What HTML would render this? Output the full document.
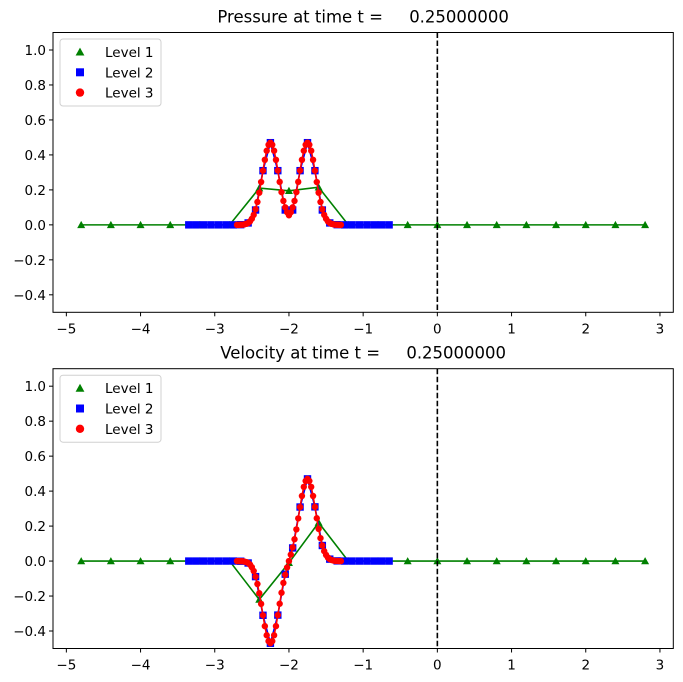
<!DOCTYPE html>
<html><head><meta charset="utf-8"><style>
body{margin:0;background:#fff;}
svg{display:block;font-family:"DejaVu Sans","Liberation Sans",sans-serif;}
</style></head><body>
<svg id="fig" width="683" height="682" viewBox="0 0 683 682"></svg>
<script>
const l1x=[-4.8,-4.4,-4.0,-3.6,-3.2,-2.8,-2.4,-2.0,-1.6,-1.2,-0.8,-0.4,0.0,0.4,0.8,1.2,1.6,2.0,2.4,2.8];
const l1p=[0,0,0,0,0,0,0.21,0.195,0.215,0,0,0,0,0,0,0,0,0,0,0];
const l1v=[0,0,0,0,0,0,-0.22,-0.01,0.22,0,0,0,0,0,0,0,0,0,0,0];
const l2x=[-3.35,-3.25,-3.15,-3.05,-2.95,-2.85,-2.75,-2.65,-2.55,-2.45,-2.35,-2.25,-2.15,-2.05,-1.95,-1.85,-1.75,-1.65,-1.55,-1.45,-1.35,-1.25,-1.15,-1.05,-0.95,-0.85,-0.75,-0.65];
const l2p=[0,0,0,0,0,0,0,0.001,0.011,0.085,0.31,0.47,0.31,0.085,0.085,0.31,0.47,0.31,0.085,0.011,0.001,0,0,0,0,0,0,0];
const l2v=[0,0,0,0,0,0,0,-0.001,-0.011,-0.089,-0.31,-0.47,-0.309,-0.075,0.075,0.309,0.47,0.31,0.089,0.011,0.001,0,0,0,0,0,0,0];
const l3x=[-2.7,-2.675,-2.65,-2.625,-2.6,-2.575,-2.55,-2.525,-2.5,-2.475,-2.45,-2.425,-2.4,-2.375,-2.35,-2.325,-2.3,-2.275,-2.25,-2.225,-2.2,-2.175,-2.15,-2.125,-2.1,-2.075,-2.05,-2.025,-2.0,-1.975,-1.95,-1.925,-1.9,-1.875,-1.85,-1.825,-1.8,-1.775,-1.75,-1.725,-1.7,-1.675,-1.65,-1.625,-1.6,-1.575,-1.55,-1.525,-1.5,-1.475,-1.45,-1.425,-1.4,-1.375,-1.35,-1.325,-1.3];
const l3p=[0,0,0.001,0.001,0.003,0.006,0.011,0.02,0.035,0.057,0.089,0.131,0.184,0.245,0.31,0.372,0.424,0.458,0.47,0.458,0.424,0.372,0.311,0.246,0.187,0.137,0.1,0.072,0.055,0.072,0.1,0.137,0.187,0.246,0.311,0.372,0.424,0.458,0.47,0.458,0.424,0.372,0.31,0.245,0.184,0.131,0.089,0.057,0.035,0.02,0.011,0.006,0.003,0.001,0.001,0,0];
const l3v=[0,0,-0.001,-0.001,-0.003,-0.006,-0.011,-0.02,-0.035,-0.057,-0.089,-0.131,-0.184,-0.245,-0.31,-0.372,-0.424,-0.458,-0.47,-0.458,-0.424,-0.372,-0.309,-0.244,-0.181,-0.125,-0.078,-0.037,0,0.037,0.078,0.125,0.181,0.244,0.309,0.372,0.424,0.458,0.47,0.458,0.424,0.372,0.31,0.245,0.184,0.131,0.089,0.057,0.035,0.02,0.011,0.006,0.003,0.001,0.001,0,0];
const xTicks=[-5,-4,-3,-2,-1,0,1,2,3];
const yTicks=[-0.4,-0.2,0.0,0.2,0.4,0.6,0.8,1.0];
const titles=["Pressure at time t =     0.25000000","Velocity at time t =     0.25000000"];
const legendLabels=["Level 1","Level 2","Level 3"];

const NS="http://www.w3.org/2000/svg";
const svg=document.getElementById('fig');
function mk(tag,attrs,parent){const e=document.createElementNS(NS,tag);for(const k in attrs)e.setAttribute(k,attrs[k]);(parent||svg).appendChild(e);return e;}
const L=53,R=673.3,X0=-5.18,X1=3.18;
const sx=x=>L+(x-X0)/(X1-X0)*(R-L);
function tri(g,cx,cy,s){return mk('polygon',{points:`${cx},${cy-s} ${cx-s},${cy+s*0.8} ${cx+s},${cy+s*0.8}`,fill:'#008000'},g);}

function panel(idx,top,ys1,ys2,ys3){
  const bot=top+279.8;
  const sy=y=>bot-(y+0.5)/1.6*(bot-top);
  const g=mk('g',{});
  
  
  const t=mk('text',{x:(L+R)/2,y:top-10,'text-anchor':'middle','font-size':'16.5','fill':'#000','xml:space':'preserve'},g);
  
  
  t.style.whiteSpace='pre';
  t.textContent=titles[idx];
  const clip=mk('clipPath',{id:'c'+idx},g);
  mk('rect',{x:L,y:top,width:R-L,height:bot-top},clip);
  const pg=mk('g',{'clip-path':`url(#c${idx})`},g);
  const s1=mk('polyline',{points:l1x.map((x,i)=>sx(x)+','+sy(ys1[i])).join(' '),fill:'none',stroke:'#008000','stroke-width':1.6},pg);
  
  
  l1x.forEach((x,i)=>{const m=tri(pg,sx(x),sy(ys1[i]),4);
    
    });
  const s2=mk('polyline',{points:l2x.map((x,i)=>sx(x)+','+sy(ys2[i])).join(' '),fill:'none',stroke:'#0000ff','stroke-width':1.6},pg);
  
  
  l2x.forEach((x,i)=>{const m=mk('rect',{x:sx(x)-3.7,y:sy(ys2[i])-3.7,width:7.4,height:7.4,fill:'#0000ff'},pg);
    
    });
  const s3=mk('polyline',{points:l3x.map((x,i)=>sx(x)+','+sy(ys3[i])).join(' '),fill:'none',stroke:'#ff0000','stroke-width':1.6},pg);
  
  
  l3x.forEach((x,i)=>{const m=mk('circle',{cx:sx(x),cy:sy(ys3[i]),r:3.2,fill:'#ff0000'},pg);
    
    });
  const dl=mk('line',{x1:sx(0),x2:sx(0),y1:top,y2:bot,stroke:'#000','stroke-width':1.6,'stroke-dasharray':'5.5,2.5'},g);
  
  
  const fr=mk('rect',{x:L,y:top,width:R-L,height:bot-top,fill:'none',stroke:'#000','stroke-width':1},g);
  
  
  xTicks.forEach(v=>{const x=sx(v);mk('line',{x1:x,x2:x,y1:bot,y2:bot+4,stroke:'#000'},g);
    const tl=mk('text',{x:x,y:bot+21,'text-anchor':'middle','font-size':'13.5',fill:'#000'},g);
    
    
    tl.textContent=(v<0?'\u2212'+(-v):String(v));});
  yTicks.forEach(v=>{const y=sy(v);mk('line',{x1:L-4,x2:L,y1:y,y2:y,stroke:'#000'},g);
    const tl=mk('text',{x:L-7,y:y+5,'text-anchor':'end','font-size':'13.5',fill:'#000'},g);
    
    
    tl.textContent=(v<0?'\u2212'+(-v).toFixed(1):v.toFixed(1));});
  const lg=mk('g',{},g);
  
  
  mk('rect',{x:60,y:top+6.5,width:101,height:67,rx:3,fill:'#fff',stroke:'#d0d0d0','stroke-width':1,'fill-opacity':0.8},lg);
  legendLabels.forEach((lab,i)=>{const cy=top+19.5+i*20.3;
    let m;
    if(i===0)m=tri(lg,80,cy,4.4);
    else if(i===1)m=mk('rect',{x:76,y:cy-4,width:8,height:8,fill:'#0000ff'},lg);
    else m=mk('circle',{cx:80,cy:cy,r:4.2,fill:'#ff0000'},lg);
    
    
    const tl=mk('text',{x:105,y:cy+5,'font-size':'13.5',fill:'#000'},lg);
    
    
    tl.textContent=lab;});
}
panel(0,32.5,l1p,l2p,l3p);
panel(1,368.7,l1v,l2v,l3v);
</script>
</body></html>
